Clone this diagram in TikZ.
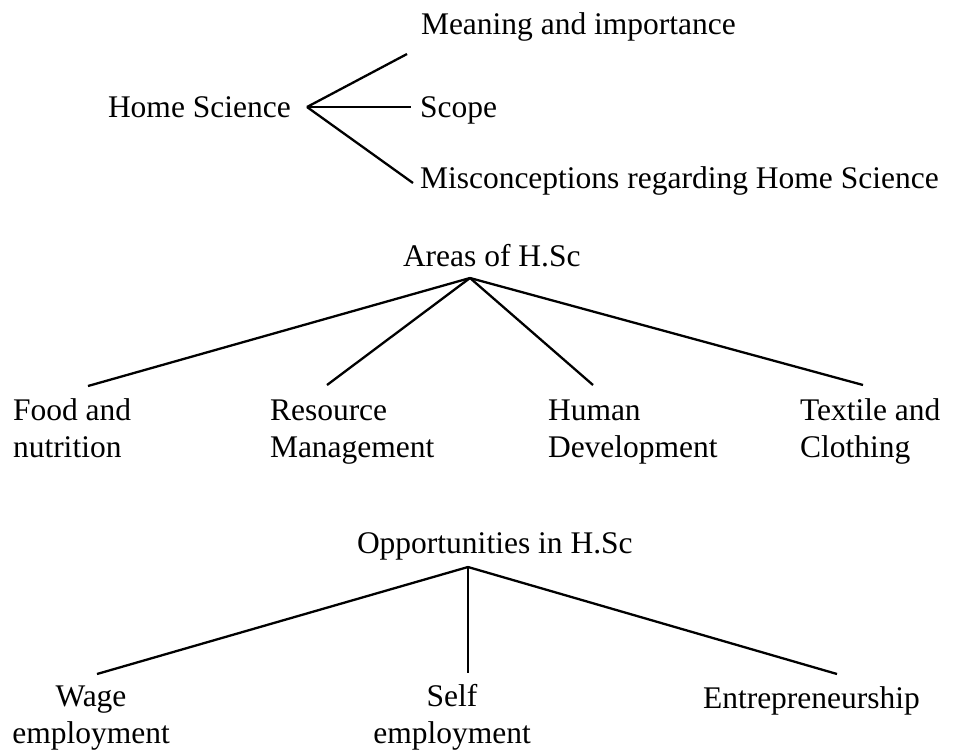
\documentclass[tikz,border=0pt]{standalone}
\usepackage{fontspec}
\setmainfont{Liberation Serif}
\begin{document}
\begin{tikzpicture}[x=1pt,y=-1pt,
  lbl/.style={inner sep=0pt,outer sep=0pt,font=\fontsize{31.5}{37}\selectfont},
  lblL/.style={lbl,anchor=base west,align=left},
  lblC/.style={lbl,anchor=base,align=center},
  conn/.style={line width=2.3pt,line cap=butt}]
\useasboundingbox (0,0) rectangle (955,753);
% --- Home Science group
\node[lblL] (hs) at (108,117) {Home Science};
\node[lblL] (mi) at (421,34) {Meaning and importance};
\node[lblL] (sc) at (420,117) {Scope};
\node[lblL] (mc) at (420,188) {Misconceptions regarding Home Science};
\coordinate (j1) at (307,107);
\coordinate (e1a) at (407,54);
\coordinate (e1b) at (411,107);
\coordinate (e1c) at (413,183);
\draw[conn] (j1) -- (e1a);
\draw[conn] (j1) -- (e1b);
\draw[conn] (j1) -- (e1c);
% --- Areas
\node[lblL] (ar) at (403,266) {Areas of H.Sc};
\node[lblL] (fn) at (13,457) {Food and\\nutrition};
\node[lblL] (rm) at (270,457) {Resource\\Management};
\node[lblL] (hd) at (548,457) {Human\\Development};
\node[lblL] (tc) at (800,457) {Textile and\\Clothing};
\coordinate (j2) at (470,278);
\coordinate (e2a) at (88,386);
\coordinate (e2b) at (327,385);
\coordinate (e2c) at (593,385);
\coordinate (e2d) at (863,385);
\draw[conn] (j2) -- (e2a);
\draw[conn] (j2) -- (e2b);
\draw[conn] (j2) -- (e2c);
\draw[conn] (j2) -- (e2d);
% --- Opportunities
\node[lblL] (op) at (357,553) {Opportunities in H.Sc};
\node[lblC] (we) at (91,743) {Wage\\employment};
\node[lblC] (se) at (452,743) {Self\\employment};
\node[lblL] (en) at (703,708) {Entrepreneurship};
\coordinate (j3) at (468,567);
\coordinate (e3a) at (97,674);
\coordinate (e3b) at (468,673);
\coordinate (e3c) at (837,674);
\draw[conn] (j3) -- (e3a);
\draw[conn] (j3) -- (e3b);
\draw[conn] (j3) -- (e3c);
\end{tikzpicture}
\end{document}
